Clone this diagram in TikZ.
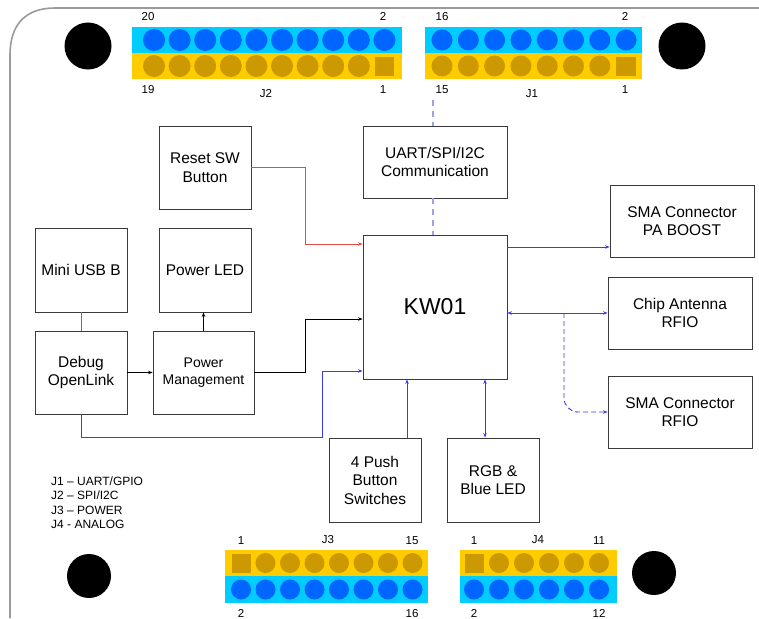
\documentclass[tikz,border=0pt]{standalone}
\usepackage{fontspec}
\setmainfont{Liberation Sans}
\usetikzlibrary{arrows.meta}
\definecolor{bandblue}{HTML}{00CCFF}
\definecolor{pinblue}{HTML}{0066FF}
\definecolor{bandyel}{HTML}{FFCC00}
\definecolor{pinyel}{HTML}{CC9900}
\definecolor{edge}{HTML}{3A3A3A}
\definecolor{boardgray}{HTML}{9A9A9A}
\definecolor{wred}{HTML}{E84848}
\definecolor{wblue}{HTML}{3A3AF0}
\definecolor{wlav}{HTML}{A0A0E8}
\definecolor{wgray}{HTML}{707070}
\begin{document}
\begin{tikzpicture}[x=1pt,y=-1pt,
  blk/.style={draw=edge,line width=0.8pt,minimum width=92pt,minimum height=83pt,align=center,inner sep=1pt,font=\fontsize{15.5}{18.5}\selectfont},
  wide/.style={blk,minimum width=144pt,minimum height=72pt},
  pinlab/.style={font=\fontsize{11.5}{13}\selectfont,anchor=base,inner sep=0pt},
  leg/.style={font=\fontsize{12}{14}\selectfont,anchor=base west,inner sep=0pt},
  tip/.style={-{Stealth[length=4.5pt,width=3.5pt]}},
  dtip/.style={{Stealth[length=4.5pt,width=3.5pt]}-{Stealth[length=4.5pt,width=3.5pt]}},
  ln/.style={line width=0.9pt}]
\useasboundingbox (0,0) rectangle (759,618);
% board outline
\draw[boardgray,line width=1.6pt] (10,618) -- (10,55) .. controls (10,25) and (25,8) .. (55,8) -- (759,8);
% mounting holes
\fill (88,46) circle[radius=23.5pt];
\fill (682,46) circle[radius=23.5pt];
\fill (89,576) circle[radius=22pt];
\fill (654,573) circle[radius=22pt];
% J2
\fill[bandblue] (132,27) rectangle (402,53);
\fill[bandyel] (132,53) rectangle (402,79);
\foreach \i in {0,...,9} \fill[pinblue] ({154+25.6*\i},40) circle[radius=11pt];
\foreach \i in {0,...,8} \fill[pinyel] ({154+25.6*\i},66) circle[radius=11pt];
\fill[pinyel] (375,56.5) rectangle (394,75.5);
\node[pinlab] (j2a) at (148,20.5) {20};
\node[pinlab] (j2b) at (383,20.5) {2};
\node[pinlab] (j2c) at (148,93.5) {19};
\node[pinlab] (j2d) at (266,97.5) {J2};
\node[pinlab] (j2e) at (383,93.5) {1};
% J1
\fill[bandblue] (425,27) rectangle (642,53);
\fill[bandyel] (425,53) rectangle (642,79);
\foreach \i in {0,...,7} \fill[pinblue] ({442+26.3*\i},40) circle[radius=10.5pt];
\foreach \i in {0,...,6} \fill[pinyel] ({442+26.3*\i},66) circle[radius=10.5pt];
\fill[pinyel] (616,56.5) rectangle (635.5,76);
\node[pinlab] (j1a) at (442,20.5) {16};
\node[pinlab] (j1b) at (625,20.5) {2};
\node[pinlab] (j1c) at (442,93.5) {15};
\node[pinlab] (j1d) at (532,97.5) {J1};
\node[pinlab] (j1e) at (625,93.5) {1};
% J3
\fill[bandyel] (225,550) rectangle (428,576);
\fill[bandblue] (225,576) rectangle (428,603);
\fill[pinyel] (232,553.5) rectangle (250.5,573);
\foreach \i in {1,...,7} \fill[pinyel] ({241+24.5*\i},563) circle[radius=10pt];
\foreach \i in {0,...,7} \fill[pinblue] ({241+24.5*\i},589.5) circle[radius=10pt];
\node[pinlab] (j3a) at (241,544) {1};
\node[pinlab] (j3b) at (328,543) {J3};
\node[pinlab] (j3c) at (412,544) {15};
\node[pinlab] (j3d) at (241,617) {2};
\node[pinlab] (j3e) at (412,617) {16};
% J4
\fill[bandyel] (460,550) rectangle (617,576);
\fill[bandblue] (460,576) rectangle (617,603);
\fill[pinyel] (465,553.5) rectangle (484,573);
\foreach \i in {1,...,5} \fill[pinyel] ({474+25*\i},563) circle[radius=10pt];
\foreach \i in {0,...,5} \fill[pinblue] ({474+25*\i},589.5) circle[radius=10pt];
\node[pinlab] (j4a) at (474,544) {1};
\node[pinlab] (j4b) at (538,543) {J4};
\node[pinlab] (j4c) at (599,544) {11};
\node[pinlab] (j4d) at (474,617) {2};
\node[pinlab] (j4e) at (599,617) {12};
% blocks
\node[blk] (reset) at (205,167.5) {Reset SW\\Button};
\node[blk,minimum height=84pt] (usb) at (81,270) {Mini USB B};
\node[blk,minimum height=84pt] (pled) at (205,270) {Power LED};
\node[wide] (uart) at (435,162) {UART/SPI/I2C\\Communication};
\node[blk,minimum width=144pt,minimum height=144pt,font=\fontsize{23}{27}\selectfont] (kw) at (435,307) {KW01};
\node[blk] (dbg) at (81,372.5) {Debug\\OpenLink};
\node[blk,minimum width=101pt,font=\fontsize{14}{17}\selectfont] (pm) at (203.5,372.5) {Power\\Management};
\node[blk,minimum height=84pt] (push) at (375,480) {4 Push\\Button\\Switches};
\node[blk,minimum height=84pt] (rgb) at (493,480) {RGB \&\\Blue LED};
\node[wide] (pa) at (682,221) {SMA Connector\\PA BOOST};
\node[wide] (chip) at (680,313) {Chip Antenna\\RFIO};
\node[wide] (smar) at (680,412) {SMA Connector\\RFIO};
% legend
\node[leg] (l1) at (51,485) {J1 -- UART/GPIO};
\node[leg] (l2) at (51,499.5) {J2 -- SPI/I2C};
\node[leg] (l3) at (51,514) {J3 -- POWER};
\node[leg] (l4) at (51,528) {J4 - ANALOG};
% helper coordinates
\coordinate (rA) at (305,244);
\coordinate (pA) at (305,319);
\coordinate (dA) at (322,437);
\coordinate (dB) at (322,371);
\coordinate (pbx) at (407,0);
\coordinate (rgx) at (485,0);
\coordinate (pay) at (0,247);
\coordinate (brk) at (564,313);
\coordinate (ux) at (433,0);
\coordinate (j1top) at (433,100);
% connectors
\draw[wred,ln,tip] (reset.east) -| (rA) -- (rA -| kw.west);
\draw[wgray,ln] (usb.south) -- (dbg.north);
\draw[black,ln,tip] (dbg.east) -- (pm.west);
\draw[black,ln,tip] (pm.north) -- (pm.north |- pled.south);
\draw[black,ln,tip] (pm.east) -| (pA) -- (pA -| kw.west);
\draw[wblue,ln,tip] (dbg.south) |- (dA) -- (dB) -- (dB -| kw.west);
\draw[wblue,ln,tip] (pbx |- push.north) -- (pbx |- kw.south);
\draw[wblue,ln,dtip] (rgx |- rgb.north) -- (rgx |- kw.south);
\draw[wblue,ln,tip] (pay -| kw.east) -- (pay -| pa.west);
\draw[wblue,ln,dtip] (chip.west -| kw.east) -- (chip.west);
\draw[wblue,ln,tip,dash pattern=on 5pt off 3pt,rounded corners=14pt] (brk) |- (smar.west);
\draw[wlav,line width=1.1pt,dash pattern=on 6pt off 5pt] (j1top) -- (ux |- uart.north);
\draw[wlav,line width=1.1pt,dash pattern=on 6pt off 5pt] (ux |- uart.south) -- (ux |- kw.north);
\end{tikzpicture}
\end{document}
